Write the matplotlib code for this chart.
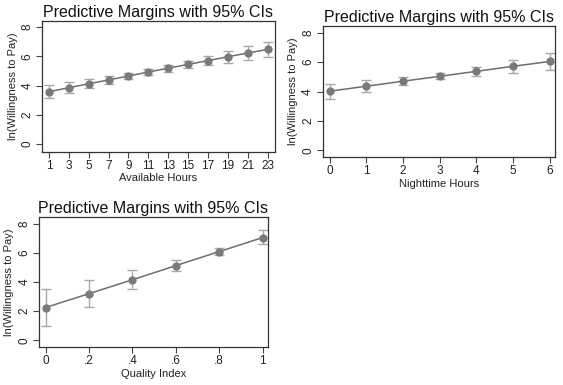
import matplotlib
matplotlib.use("Agg")
import matplotlib.pyplot as plt

plt.rcParams['font.family'] = ['Liberation Sans', 'DejaVu Sans']

# Panel 1: Available Hours
avail_x = [1, 3, 5, 7, 9, 11, 13, 15, 17, 19, 21, 23]
avail_y = [3.58, 3.85, 4.12, 4.38, 4.65, 4.92, 5.18, 5.44, 5.70, 5.96, 6.22, 6.46]
avail_lo = [3.13, 3.47, 3.80, 4.11, 4.42, 4.69, 4.95, 5.18, 5.37, 5.55, 5.74, 5.92]
avail_hi = [4.04, 4.24, 4.45, 4.66, 4.88, 5.12, 5.40, 5.70, 6.03, 6.37, 6.70, 6.98]
avail_ticks = [1, 3, 5, 7, 9, 11, 13, 15, 17, 19, 21, 23]

# Panel 2: Nighttime Hours
night_x = [0, 1, 2, 3, 4, 5, 6]
night_y = [4.02, 4.36, 4.70, 5.03, 5.37, 5.71, 6.04]
night_lo = [3.52, 3.96, 4.45, 4.82, 5.08, 5.29, 5.47]
night_hi = [4.54, 4.76, 4.97, 5.25, 5.67, 6.15, 6.62]
night_ticks = [0, 1, 2, 3, 4, 5, 6]

# Panel 3: Quality Index
qual_x = [0, 0.2, 0.4, 0.6, 0.8, 1.0]
qual_y = [2.25, 3.20, 4.15, 5.12, 6.08, 7.04]
qual_lo = [0.98, 2.27, 3.54, 4.78, 5.87, 6.60]
qual_hi = [3.51, 4.15, 4.80, 5.48, 6.30, 7.53]
qual_ticks = [0, 0.2, 0.4, 0.6, 0.8, 1.0]
qual_ticklabels = ['0', '.2', '.4', '.6', '.8', '1']

y_ticks = [0, 2, 4, 6, 8]
title = "Predictive Margins with 95% CIs"
ylabel = "ln(Willingness to Pay)"

W, H = 563, 385
fig = plt.figure(figsize=(W / 100, H / 100), dpi=100)
fig.patch.set_facecolor('white')


def px_axes(left, top, right, bottom):
    return fig.add_axes([left / W, (H - bottom) / H, (right - left) / W, (bottom - top) / H])


def draw(ax, x, y, lo, hi, xticks, xticklabels, xlabel, xlim, ylim):
    err = [[yi - l for yi, l in zip(y, lo)], [h - yi for yi, h in zip(y, hi)]]
    ax.errorbar(x, y, yerr=err, fmt='none', ecolor='#a8a8a8', elinewidth=1.0,
                capsize=3.5, capthick=1.0, zorder=2)
    ax.plot(x, y, color='#6e6e6e', linewidth=1.1, zorder=3)
    ax.plot(x, y, 'o', color='#7a7a7a', markersize=6, markeredgewidth=0, zorder=4)
    ax.set_xlim(*xlim)
    ax.set_ylim(*ylim)
    ax.set_xticks(xticks)
    ax.set_xticklabels(xticklabels, fontsize=8.5, color='#222222')
    ax.set_yticks(y_ticks)
    ax.set_yticklabels([str(t) for t in y_ticks], fontsize=8.5, rotation=90,
                       va='center', color='#222222')
    ax.tick_params(direction='out', length=4, width=0.8, color='#444444', pad=2)
    for s in ax.spines.values():
        s.set_color('#333333')
        s.set_linewidth(0.9)
    ax.set_title(title, fontsize=11.5, color='#111111', pad=3)
    ax.set_xlabel(xlabel, fontsize=8, color='#222222', labelpad=1)
    ax.set_ylabel(ylabel, fontsize=8, color='#222222', labelpad=3)


ax1 = px_axes(42, 21, 274.5, 151.5)
draw(ax1, avail_x, avail_y, avail_lo, avail_hi, avail_ticks,
     [str(t) for t in avail_ticks], "Available Hours", (0.3, 23.7), (-0.5, 8.4))

ax2 = px_axes(322.5, 26, 555, 157)
draw(ax2, night_x, night_y, night_lo, night_hi, night_ticks,
     [str(t) for t in night_ticks], "Nighttime Hours", (-0.2, 6.15), (-0.45, 8.45))

ax3 = px_axes(39, 217, 268, 347)
draw(ax3, qual_x, qual_y, qual_lo, qual_hi, qual_ticks,
     qual_ticklabels, "Quality Index", (-0.03, 1.025), (-0.45, 8.45))

fig.savefig("out.png", dpi=100, facecolor='white')
